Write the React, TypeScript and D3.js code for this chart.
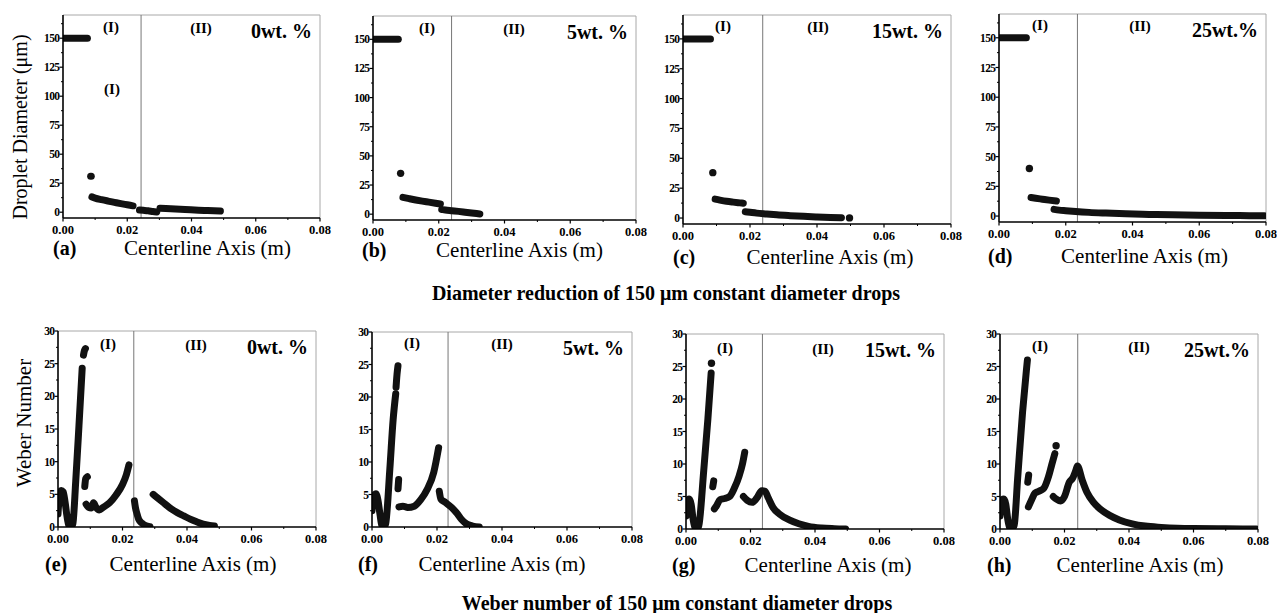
import React from 'react';
import * as d3 from 'd3';

type Pt = [number, number];
type Series = Pt[][];

// droplet diameter (µm) vs centerline position (m), one list per scatter branch
const diam0wt: Series = [
  [[0, 150], [0.0076, 150]],
  [[0.0086, 31], [0.0088, 31]],
  [[0.009, 13.2], [0.01, 12.2], [0.012, 10.8], [0.014, 9.6], [0.016, 8.5], [0.018, 7.4], [0.02, 6.4], [0.0218, 5.5]],
  [[0.0238, 1.9], [0.025, 1.6], [0.0265, 1.2], [0.028, 0.6], [0.0292, 0.2]],
  [[0.0302, 3.5], [0.032, 3.2], [0.035, 2.8], [0.038, 2.3], [0.041, 1.9], [0.044, 1.5], [0.047, 1.2], [0.049, 1.0]],
];
const diam5wt: Series = [
  [[0, 150], [0.0077, 150]],
  [[0.0084, 35]],
  [[0.0091, 14.4], [0.011, 13.3], [0.013, 12.2], [0.015, 11.2], [0.017, 10.3], [0.019, 9.4], [0.0205, 8.7]],
  [[0.0209, 4], [0.022, 3.6], [0.024, 3], [0.026, 2.4], [0.028, 1.7], [0.03, 1.0], [0.0315, 0.5], [0.0325, 0.2]],
];
const diam15wt: Series = [
  [[0, 150], [0.0082, 150]],
  [[0.0089, 38]],
  [[0.0096, 15.8], [0.011, 15.0], [0.013, 14.0], [0.015, 13.3], [0.017, 12.7], [0.018, 12.4]],
  [[0.0186, 5.3], [0.02, 4.8], [0.022, 4.1], [0.025, 3.4], [0.028, 2.7], [0.032, 2.0], [0.036, 1.4], [0.04, 0.9], [0.044, 0.5], [0.0473, 0.3]],
  [[0.0497, 0.1]],
];
const diam25wt: Series = [
  [[0, 150], [0.0082, 150]],
  [[0.0091, 40]],
  [[0.0096, 15.6], [0.011, 15.0], [0.013, 14.2], [0.015, 13.4], [0.0172, 12.6]],
  [[0.0165, 5.6], [0.018, 5.0], [0.02, 4.5], [0.023, 3.8], [0.027, 3.1], [0.032, 2.5], [0.038, 1.9], [0.045, 1.4], [0.052, 1.0], [0.06, 0.7], [0.068, 0.5], [0.075, 0.35], [0.0795, 0.3]],
];

// Weber number vs centerline position (m)
const weber0wt: Series = [
  [[0, 2], [0.0004, 4.6], [0.001, 5.6], [0.0016, 5.4], [0.0022, 3.8], [0.0028, 1.6], [0.0034, 0.2], [0.004, 0], [0.0046, 0.5], [0.0055, 7], [0.0065, 15.5], [0.0075, 24.3]],
  [[0.0079, 26.3], [0.0082, 27], [0.0085, 27.3]],
  [[0.0083, 6.2], [0.0086, 7.4], [0.0091, 7.7]],
  [[0.0087, 3.5], [0.0095, 3.0], [0.0103, 2.9], [0.011, 3.7], [0.0118, 3.0], [0.0128, 2.6], [0.014, 3.0], [0.016, 3.7], [0.018, 4.9], [0.02, 6.5], [0.0212, 8], [0.022, 9.5]],
  [[0.0237, 4], [0.024, 3], [0.0245, 2], [0.025, 1.2], [0.026, 0.6], [0.027, 0.25], [0.0285, 0.05]],
  [[0.0295, 5], [0.031, 4.4], [0.033, 3.6], [0.035, 2.8], [0.037, 2.2], [0.039, 1.7], [0.041, 1.2], [0.043, 0.8], [0.045, 0.45], [0.047, 0.25], [0.0485, 0.15]],
];
const weber5wt: Series = [
  [[0, 2.5], [0.0005, 4.8], [0.0012, 5.1], [0.0018, 4.2], [0.0025, 1.8], [0.003, 0.3], [0.0036, 0], [0.0042, 0.5], [0.0055, 9], [0.0065, 16.5], [0.0073, 20.5]],
  [[0.0074, 21.5], [0.0077, 23.5], [0.008, 24.8]],
  [[0.008, 5.9], [0.0082, 7.3]],
  [[0.0083, 3.1], [0.0095, 3.2], [0.011, 3.0], [0.013, 3.2], [0.015, 4.2], [0.017, 5.8], [0.019, 8.4], [0.0205, 12.2]],
  [[0.0207, 5.5], [0.0212, 4.3], [0.0225, 3.8], [0.0245, 3.0], [0.026, 2.2], [0.0275, 1.2], [0.029, 0.5], [0.031, 0.15], [0.033, 0]],
];
const weber15wt: Series = [
  [[0, 2], [0.0005, 4.4], [0.001, 4.6], [0.0016, 3.8], [0.0022, 1.5], [0.0028, 0.2], [0.0034, 0], [0.004, 0.6], [0.0055, 9], [0.0068, 17], [0.0078, 24]],
  [[0.0079, 25.5]],
  [[0.0083, 6.5], [0.0086, 7.4]],
  [[0.0088, 3.1], [0.0095, 3.6], [0.0105, 4.5], [0.012, 4.7], [0.0135, 5], [0.015, 6.3], [0.0165, 8.2], [0.0175, 10], [0.0182, 11.8]],
  [[0.0178, 5], [0.019, 4.4], [0.0205, 4.1], [0.022, 4.8], [0.0235, 5.9], [0.0245, 5.8], [0.0255, 4.8], [0.027, 3.3], [0.029, 2.3], [0.032, 1.4], [0.035, 0.8], [0.038, 0.4], [0.042, 0.15], [0.046, 0.05], [0.0495, 0]],
];
const weber25wt: Series = [
  [[0, 2], [0.0005, 4.5], [0.0012, 4.6], [0.0018, 3.8], [0.0024, 1.5], [0.003, 0.2], [0.0036, 0], [0.0044, 0.6], [0.0055, 8], [0.007, 18], [0.0082, 24.5], [0.0085, 26]],
  [[0.0086, 7.2], [0.0089, 8.3]],
  [[0.0088, 3.4], [0.0098, 4.5], [0.0108, 5.5], [0.012, 5.8], [0.0135, 6.2], [0.015, 8], [0.016, 9.8], [0.017, 11.6]],
  [[0.0174, 12.8]],
  [[0.0165, 5], [0.0175, 4.6], [0.0188, 4.3], [0.02, 5], [0.0215, 7.2], [0.0225, 7.8], [0.0235, 9], [0.024, 9.7], [0.0255, 7.5], [0.027, 5.6], [0.029, 4.1], [0.031, 3.1], [0.034, 2.1], [0.037, 1.4], [0.041, 0.8], [0.045, 0.45], [0.05, 0.25], [0.055, 0.12], [0.06, 0.06], [0.07, 0.02], [0.0795, 0]],
];

const xTicks = [0, 0.02, 0.04, 0.06, 0.08];
const xMinor = [0.01, 0.03, 0.05, 0.07];
const diamTicks = [0, 25, 50, 75, 100, 125, 150];
const diamMinor = [12.5, 37.5, 62.5, 87.5, 112.5, 137.5, 162.5];
const weberTicks = [0, 5, 10, 15, 20, 25, 30];
const weberMinor = [2.5, 7.5, 12.5, 17.5, 22.5, 27.5];

const concLabels = ['0wt. %', '5wt. %', '15wt. %', '25wt.%'];
const topLetters = ['(a)', '(b)', '(c)', '(d)'];
const bottomLetters = ['(e)', '(f)', '(g)', '(h)'];
const topBoundary = [0.0243, 0.0239, 0.0238, 0.0235];
const bottomBoundary = [0.0235, 0.0234, 0.0237, 0.0241];

const FONT = '"Liberation Serif", "Times New Roman", Times, serif';

interface Layout {
  x0: number; x1: number; y0: number; y1: number;
  rI: number; rII: number; rb: number; lx: number; lb: number; letterDx: number;
}

const topLayout: Layout[] = [
  { x0: 63, x1: 320, y0: 15, y1: 218, rI: 48, rII: 138, rb: 17, lx: 16, lb: 255, letterDx: -10 },
  { x0: 373, x1: 636, y0: 16, y1: 220, rI: 54, rII: 141, rb: 17, lx: 15, lb: 257, letterDx: -11 },
  { x0: 683, x1: 951, y0: 15, y1: 224, rI: 40, rII: 135, rb: 16, lx: 13, lb: 264, letterDx: -10 },
  { x0: 999, x1: 1266, y0: 14, y1: 222, rI: 41, rII: 141, rb: 16, lx: 12, lb: 263, letterDx: -11 },
];
const bottomLayout: Layout[] = [
  { x0: 58, x1: 316, y0: 331, y1: 527, rI: 50, rII: 138, rb: 18, lx: 6, lb: 571, letterDx: -13 },
  { x0: 372, x1: 632, y0: 332, y1: 527, rI: 40, rII: 130, rb: 16, lx: 0, lb: 571, letterDx: -14 },
  { x0: 686, x1: 944, y0: 334, y1: 529, rI: 39, rII: 137, rb: 19, lx: 13, lb: 572, letterDx: -14 },
  { x0: 1000, x1: 1258, y0: 334, y1: 529, rI: 40, rII: 139, rb: 17, lx: 11, lb: 572, letterDx: -13 },
];

interface PanelProps {
  id: string;
  lay: Layout;
  series: Series;
  yDomain: [number, number];
  yTicks: number[];
  yMinor: number[];
  boundary: number;
  conc: string;
  letter: string;
  extraI?: boolean;
}

function Panel({ id, lay, series, yDomain, yTicks, yMinor, boundary, conc, letter, extraI }: PanelProps) {
  const x = d3.scaleLinear().domain([0, 0.08]).range([lay.x0, lay.x1]);
  const y = d3.scaleLinear().domain(yDomain).range([lay.y1, lay.y0]);
  const line = d3.line<Pt>().x(d => x(d[0])).y(d => y(d[1])).curve(d3.curveMonotoneX);
  const ink = '#111';
  return (
    <g>
      <defs>
        <clipPath id={'clip-' + id}>
          <rect x={lay.x0} y={lay.y0 - 10} width={lay.x1 - lay.x0} height={lay.y1 - lay.y0 + 10} />
        </clipPath>
      </defs>
      {/* frame top/right */}
      <line x1={lay.x0} x2={lay.x1} y1={lay.y0} y2={lay.y0} stroke="#a8a8a8" strokeWidth={1} />
      <line x1={lay.x1} x2={lay.x1} y1={lay.y0} y2={lay.y1} stroke="#a8a8a8" strokeWidth={1} />
      {/* regime boundary */}
      <line x1={x(boundary)} x2={x(boundary)} y1={lay.y0} y2={lay.y1} stroke="#777" strokeWidth={1} />
      <g clipPath={`url(#clip-${id})`}>
        {series.map((seg, i) =>
          seg.length === 1 ? (
            <circle key={i} cx={x(seg[0][0])} cy={y(seg[0][1])} r={3.7} fill={ink} />
          ) : (
            <path key={i} d={line(seg) || ''} fill="none" stroke={ink} strokeWidth={7}
              strokeLinecap="round" strokeLinejoin="round" />
          )
        )}
      </g>
      {/* axes */}
      <line x1={lay.x0} x2={lay.x0} y1={lay.y0} y2={lay.y1} stroke="#000" strokeWidth={1.6} />
      <line x1={lay.x0} x2={lay.x1} y1={lay.y1} y2={lay.y1} stroke="#000" strokeWidth={1.6} />
      {yTicks.map(t => (
        <g key={'yt' + t}>
          <line x1={lay.x0 - 3.5} x2={lay.x0} y1={y(t)} y2={y(t)} stroke="#000" strokeWidth={1.2} />
          <text x={lay.x0 - 3.5} y={y(t)} dy="0.35em" textAnchor="end" fontFamily={FONT}
            fontWeight="bold" fontSize={11.5} letterSpacing={-0.6}>{t}</text>
        </g>
      ))}
      {yMinor.map(t => (
        <line key={'ym' + t} x1={lay.x0 - 2} x2={lay.x0} y1={y(t)} y2={y(t)} stroke="#000" strokeWidth={1} />
      ))}
      {xTicks.map(t => (
        <g key={'xt' + t}>
          <line x1={x(t)} x2={x(t)} y1={lay.y1} y2={lay.y1 + 3.5} stroke="#000" strokeWidth={1.2} />
          <text x={x(t)} y={lay.y1 + 16} textAnchor="middle" fontFamily={FONT}
            fontWeight="bold" fontSize={12.5}>{t.toFixed(2)}</text>
        </g>
      ))}
      {xMinor.map(t => (
        <line key={'xm' + t} x1={x(t)} x2={x(t)} y1={lay.y1} y2={lay.y1 + 2} stroke="#000" strokeWidth={1} />
      ))}
      {/* regime marks */}
      <text x={lay.x0 + lay.rI} y={lay.y0 + lay.rb} textAnchor="middle" fontFamily={FONT}
        fontWeight="bold" fontSize={15}>(I)</text>
      <text x={lay.x0 + lay.rII} y={lay.y0 + lay.rb + 1} textAnchor="middle" fontFamily={FONT}
        fontWeight="bold" fontSize={15}>(II)</text>
      {extraI && (
        <text x={lay.x0 + lay.rI + 1} y={lay.y0 + 79} textAnchor="middle" fontFamily={FONT}
          fontWeight="bold" fontSize={15}>(I)</text>
      )}
      <text x={lay.x1 - 8} y={lay.y0 + 23} textAnchor="end" fontFamily={FONT}
        fontWeight="bold" fontSize={20}>{conc}</text>
      {/* bottom captions */}
      <text x={lay.x0 + lay.letterDx} y={lay.lb} fontFamily={FONT} fontWeight="bold" fontSize={20}>{letter}</text>
      <text x={(lay.x0 + lay.x1) / 2 + lay.lx} y={lay.lb} textAnchor="middle" fontFamily={FONT}
        fontSize={21}>Centerline Axis (m)</text>
    </g>
  );
}

const diamSeries = [diam0wt, diam5wt, diam15wt, diam25wt];
const weberSeries = [weber0wt, weber5wt, weber15wt, weber25wt];

export default function App() {
  return (
    <svg width={1277} height={613} style={{ position: 'absolute', left: 0, top: 0, background: '#fff' }}>
      <rect x={0} y={0} width={1277} height={613} fill="#fff" />
      {topLayout.map((lay, i) => (
        <Panel key={'t' + i} id={'t' + i} lay={lay} series={diamSeries[i]} yDomain={[-5, 170]}
          yTicks={diamTicks} yMinor={diamMinor} boundary={topBoundary[i]} conc={concLabels[i]}
          letter={topLetters[i]} extraI={i === 0} />
      ))}
      {bottomLayout.map((lay, i) => (
        <Panel key={'b' + i} id={'b' + i} lay={lay} series={weberSeries[i]} yDomain={[0, 30]}
          yTicks={weberTicks} yMinor={weberMinor} boundary={bottomBoundary[i]} conc={concLabels[i]}
          letter={bottomLetters[i]} />
      ))}
      <text x={20} y={127} transform="rotate(-90 20 127)" dy="0.35em" textAnchor="middle"
        fontFamily={FONT} fontSize={20}>Droplet Diameter (μm)</text>
      <text x={24} y={423} transform="rotate(-90 24 423)" dy="0.35em" textAnchor="middle"
        fontFamily={FONT} fontSize={21}>Weber Number</text>
      <text x={666} y={300} textAnchor="middle" fontFamily={FONT} fontWeight="bold" fontSize={20}>
        Diameter reduction of 150 μm constant diameter drops
      </text>
      <text x={677} y={610} textAnchor="middle" fontFamily={FONT} fontWeight="bold" fontSize={20}>
        Weber number of 150 μm constant diameter drops
      </text>
    </svg>
  );
}
